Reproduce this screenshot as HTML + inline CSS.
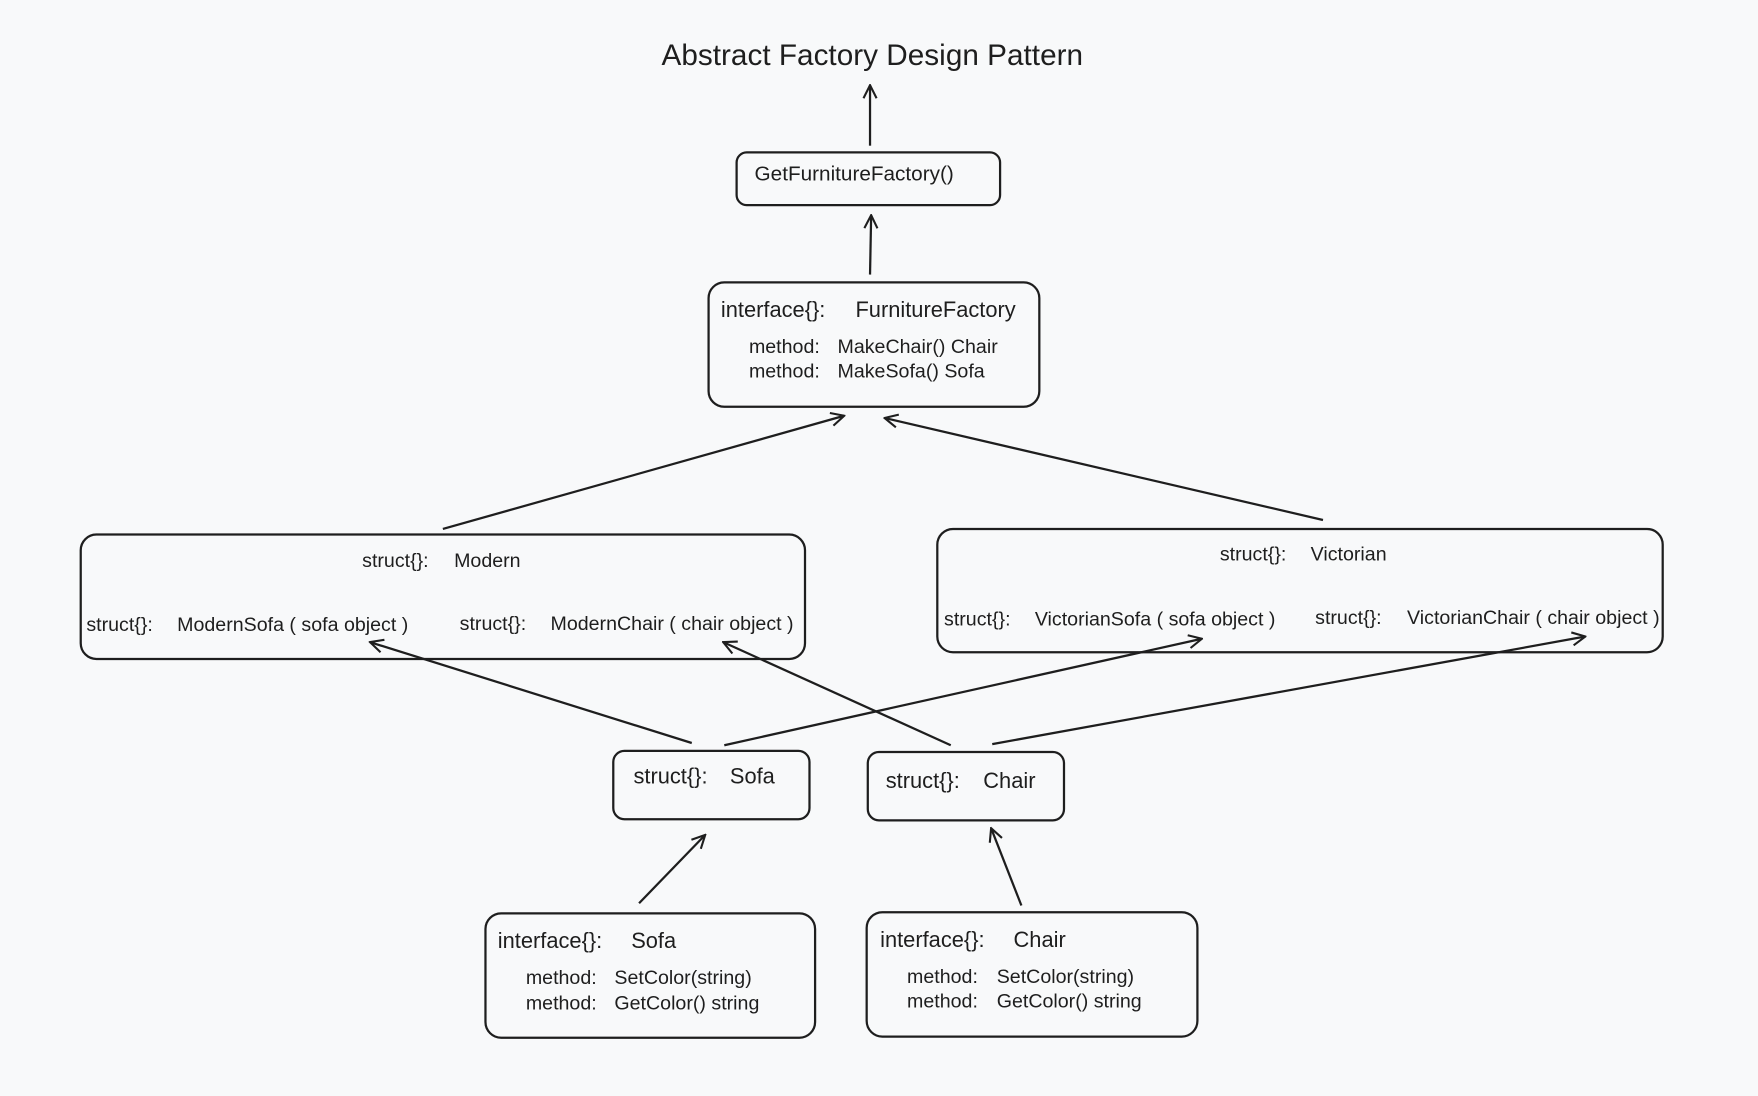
<!DOCTYPE html>
<html><head><meta charset="utf-8"><style>
html,body{margin:0;padding:0;background:#f8f9fa;}
svg{display:block}
text{font-family:"Liberation Sans",sans-serif;fill:#1e1e1e}
.t{font-size:18.5px}.m{font-size:17.5px}.h{font-size:19.5px}
</style></head><body>
<svg width="1758" height="1096" viewBox="0 0 1568 978" preserveAspectRatio="none" xmlns="http://www.w3.org/2000/svg">
<rect width="1568" height="978" fill="#f8f9fa"/>
<defs><marker id="a" viewBox="0 0 12 12" refX="11" refY="6" markerWidth="14" markerHeight="14" markerUnits="userSpaceOnUse" orient="auto"><path d="M1,1 L11,6 L1,11" fill="none" stroke="#1e1e1e" stroke-width="1.6"/></marker></defs>
<g fill="none" stroke="#1e1e1e" stroke-width="2">
<rect x="657" y="136" width="235" height="47" rx="9"/>
<rect x="632" y="252" width="295" height="111" rx="14"/>
<rect x="72" y="477" width="646" height="111" rx="14"/>
<rect x="836" y="472" width="647" height="110" rx="14"/>
<rect x="547" y="670" width="175" height="61" rx="10"/>
<rect x="774" y="671" width="175" height="61" rx="10"/>
<rect x="433" y="815" width="294" height="111" rx="14"/>
<rect x="773" y="814" width="295" height="111" rx="14"/>
<g marker-end="url(#a)">
<line x1="776" y1="130" x2="776" y2="76"/>
<line x1="776" y1="245" x2="777" y2="192"/>
<line x1="395" y1="472" x2="753" y2="371"/>
<line x1="1180" y1="464" x2="789" y2="373"/>
<line x1="617" y1="663" x2="330" y2="573"/>
<line x1="646" y1="665" x2="1072" y2="570"/>
<line x1="848" y1="665" x2="645" y2="573"/>
<line x1="885" y1="664" x2="1414" y2="568"/>
<line x1="570" y1="806" x2="629" y2="745"/>
<line x1="911" y1="808" x2="884" y2="739"/>
</g></g>
<text x="590" y="58" textLength="376" style="font-size:26.5px">Abstract Factory Design Pattern</text>
<text x="673" y="161" class="t">GetFurnitureFactory()</text>
<text x="643" y="283" class="h">interface{}:</text><text x="763" y="283" class="h">FurnitureFactory</text>
<text x="668" y="315" class="m">method:</text><text x="747" y="315" class="m">MakeChair() Chair</text>
<text x="668" y="337" class="m">method:</text><text x="747" y="337" class="m">MakeSofa() Sofa</text>
<text x="323" y="506" class="m">struct{}:</text><text x="405" y="506" class="m">Modern</text>
<text x="77" y="563" class="m">struct{}:</text><text x="158" y="563" class="m">ModernSofa ( sofa object )</text>
<text x="410" y="562" class="m">struct{}:</text><text x="491" y="562" class="m">ModernChair ( chair object )</text>
<text x="1088" y="500" class="m">struct{}:</text><text x="1169" y="500" class="m">Victorian</text>
<text x="842" y="558" class="m">struct{}:</text><text x="923" y="558" class="m">VictorianSofa ( sofa object )</text>
<text x="1173" y="557" class="m">struct{}:</text><text x="1255" y="557" class="m">VictorianChair ( chair object )</text>
<text x="565" y="699" class="h">struct{}:</text><text x="651" y="699" class="h">Sofa</text>
<text x="790" y="703" class="h">struct{}:</text><text x="877" y="703" class="h">Chair</text>
<text x="444" y="846" class="h">interface{}:</text><text x="563" y="846" class="h">Sofa</text>
<text x="469" y="878" class="m">method:</text><text x="548" y="878" class="m">SetColor(string)</text>
<text x="469" y="901" class="m">method:</text><text x="548" y="901" class="m">GetColor() string</text>
<text x="785" y="845" class="h">interface{}:</text><text x="904" y="845" class="h">Chair</text>
<text x="809" y="877" class="m">method:</text><text x="889" y="877" class="m">SetColor(string)</text>
<text x="809" y="899" class="m">method:</text><text x="889" y="899" class="m">GetColor() string</text>
</svg>
</body></html>
